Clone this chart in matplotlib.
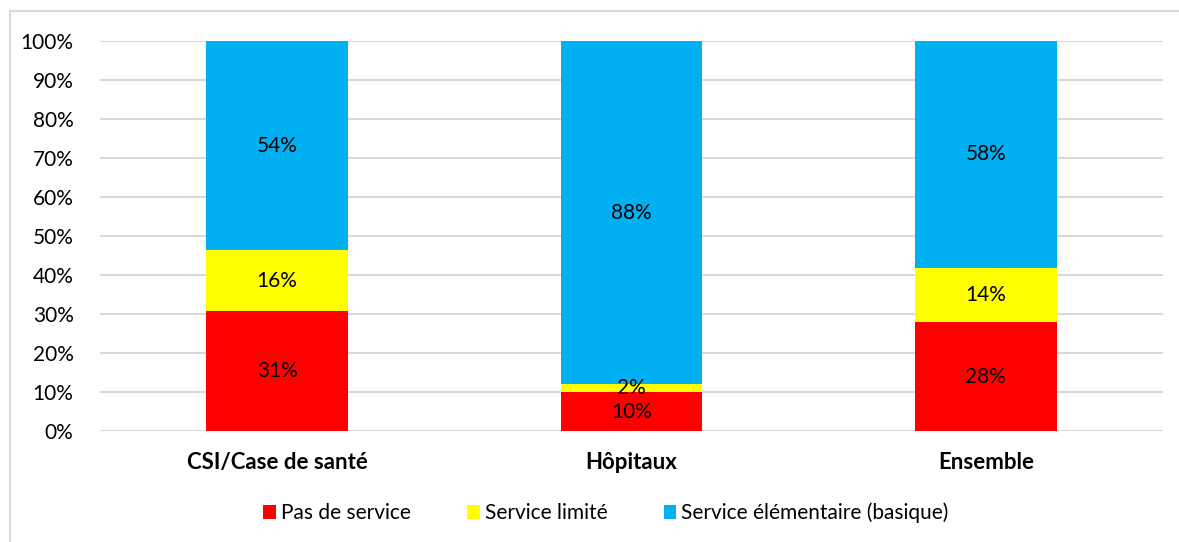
import numpy as np
import matplotlib.pyplot as plt
from matplotlib.patches import Rectangle

categories = ['CSI/Case de santé', 'Hôpitaux', 'Ensemble']
series_names = ['Pas de service', 'Service limité', 'Service élémentaire (basique)']
pas_service = [30.7, 10.0, 27.9]
service_limite = [15.6, 2.0, 14.0]
service_elem = [53.7, 88.0, 58.1]
colors = ['#ff0000', '#ffff00', '#00b0f0']

plt.rcParams['font.family'] = ['Lato', 'DejaVu Sans']

fig = plt.figure(figsize=(11.79, 5.42), dpi=100)
ax = fig.add_axes([100 / 1179, 1 - 431 / 542, 1063 / 1179, 390 / 542])

# light frame around the chart (clipped at right and bottom)
fig.patches.append(Rectangle((10 / 1179, -0.01), 1.1, 1 - 11 / 542 + 0.01, transform=fig.transFigure,
                             fill=False, edgecolor='#d9d9d9', linewidth=1.5))

x = np.arange(len(categories))
width = 0.4
bottom = np.zeros(len(categories))
for name, vals, col in zip(series_names, [pas_service, service_limite, service_elem], colors):
    vals = np.array(vals)
    ax.bar(x, vals, width, bottom=bottom, color=col, label=name, zorder=3)
    for xi, b, v in zip(x, bottom, vals):
        ax.text(xi, b + v / 2, '%d%%' % round(v), ha='center', va='center', fontsize=15, zorder=4)
    bottom = bottom + vals

ax.set_xlim(-0.5, len(categories) - 0.5)
ax.set_ylim(0, 100)
ax.set_yticks(np.arange(0, 101, 10))
ax.set_yticklabels(['%d%%' % t for t in np.arange(0, 101, 10)], fontsize=15)
ax.set_xticks(x)
ax.set_xticklabels(categories, fontsize=16, fontweight='bold')
ax.tick_params(axis='both', length=0)
ax.tick_params(axis='x', pad=15)
ax.tick_params(axis='y', pad=19)
ax.grid(axis='y', color='#d9d9d9', linewidth=1.5, zorder=0)
for s in ax.spines.values():
    s.set_visible(False)

fig.legend(loc='center', bbox_to_anchor=(606 / 1179, 1 - 513 / 542), ncol=3, frameon=False,
           fontsize=15, handlelength=0.6, handleheight=0.6, handletextpad=0.25, columnspacing=2.7)

plt.savefig('out.png', dpi=100)
